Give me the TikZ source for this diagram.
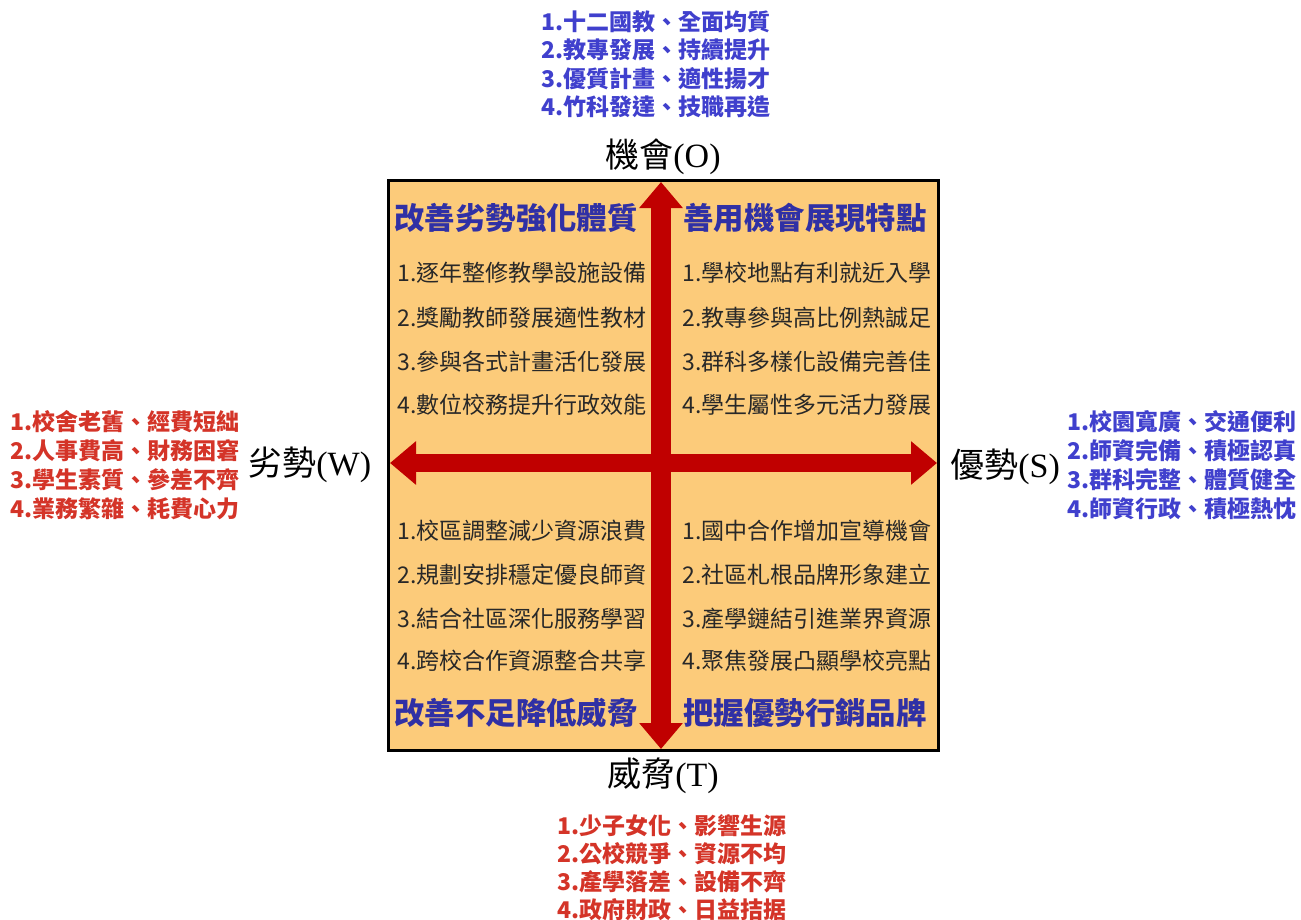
\documentclass[tikz,border=0pt]{standalone}
\usepackage{fontspec}
\usetikzlibrary{arrows.meta}
\newfontfamily\cjk{Noto Sans CJK TC}
\newfontfamily\rom{Liberation Serif}
\definecolor{boxfill}{RGB}{252,203,122}
\definecolor{arrowred}{RGB}{192,0,0}
\definecolor{listblue}{RGB}{64,64,205}
\definecolor{titleblue}{RGB}{48,48,165}
\definecolor{listred}{RGB}{212,52,40}
\definecolor{itemgray}{RGB}{40,40,40}
\tikzset{
  listb/.style={font=\cjk\bfseries\fontsize{11.5}{13}\selectfont, text=listblue, inner sep=0pt},
  listr/.style={font=\cjk\bfseries\fontsize{11.5}{13}\selectfont, text=listred, inner sep=0pt},
  quadtitle/.style={font=\cjk\bfseries\fontsize{15.2}{17}\selectfont, text=titleblue, inner sep=0pt, anchor=west},
  item/.style={font=\cjk\fontsize{11.5}{13}\selectfont, text=itemgray, inner sep=0pt, anchor=west},
  axislabel/.style={font=\fontsize{17}{19}\selectfont, text=black, inner sep=0pt},
  bigarrow/.style={draw=arrowred, line width=10pt, {Triangle[length=13pt,width=21pt]}-{Triangle[length=13pt,width=21pt]}}
}
\begin{document}
\begin{tikzpicture}[x=0.5pt,y=-0.5pt]
\useasboundingbox (0,0) rectangle (1301,920);
% main box
\node[draw=black, line width=1.5pt, fill=boxfill, minimum width=275pt, minimum height=285pt, inner sep=0pt] (box) at (663,465) {};
% arrows
\coordinate (ntip) at (661,182);
\coordinate (stip) at (661,749);
\coordinate (wtip) at (390,463);
\coordinate (etip) at (937,463);
\draw[bigarrow, line width=9pt] (wtip) -- (etip);
\draw[bigarrow] (ntip) -- (stip);
% quadrant titles
\node[quadtitle] (t1) at (394,218) {改善劣勢強化體質};
\node[quadtitle] (t2) at (683,218) {善用機會展現特點};
\node[quadtitle] (t3) at (394,713) {改善不足降低威脅};
\node[quadtitle] (t4) at (683,713) {把握優勢行銷品牌};
% quadrant items
\node[item] (a1) at (397,273) {1.逐年整修教學設施設備};
\node[item] (a2) at (397,318) {2.獎勵教師發展適性教材};
\node[item] (a3) at (397,362) {3.參與各式計畫活化發展};
\node[item] (a4) at (397,405) {4.數位校務提升行政效能};
\node[item] (b1) at (682,273) {1.學校地點有利就近入學};
\node[item] (b2) at (682,318) {2.教專參與高比例熱誠足};
\node[item] (b3) at (682,362) {3.群科多樣化設備完善佳};
\node[item] (b4) at (682,405) {4.學生屬性多元活力發展};
\node[item] (c1) at (397,531) {1.校區調整減少資源浪費};
\node[item] (c2) at (397,575) {2.規劃安排穩定優良師資};
\node[item] (c3) at (397,619) {3.結合社區深化服務學習};
\node[item] (c4) at (397,661) {4.跨校合作資源整合共享};
\node[item] (d1) at (682,531) {1.國中合作增加宣導機會};
\node[item] (d2) at (682,575) {2.社區札根品牌形象建立};
\node[item] (d3) at (682,619) {3.產學鏈結引進業界資源};
\node[item] (d4) at (682,661) {4.聚焦發展凸顯學校亮點};
% axis labels
\node[axislabel] (olab) at (663,157) {\cjk 機會\rom(O)};
\node[axislabel] (tlab) at (663,776) {\cjk 威脅\rom(T)};
\node[axislabel, anchor=west] (wlab) at (248,465) {\cjk 劣勢\rom(W)};
\node[axislabel, anchor=west] (slab) at (950,467) {\cjk 優勢\rom(S)};
% opportunity list
\node[listb, anchor=west] (o1) at (541,22) {1.十二國教、全面均質};
\node[listb, anchor=west] (o2) at (541,50) {2.教專發展、持續提升};
\node[listb, anchor=west] (o3) at (541,79) {3.優質計畫、適性揚才};
\node[listb, anchor=west] (o4) at (541,107) {4.竹科發達、技職再造};
% weakness list
\node[listr, anchor=west] (w1) at (10,422) {1.校舍老舊、經費短絀};
\node[listr, anchor=west] (w2) at (10,451) {2.人事費高、財務困窘};
\node[listr, anchor=west] (w3) at (10,480) {3.學生素質、參差不齊};
\node[listr, anchor=west] (w4) at (10,509) {4.業務繁雜、耗費心力};
% strength list
\node[listb, anchor=east] (s1) at (1297,422) {1.校園寬廣、交通便利};
\node[listb, anchor=east] (s2) at (1297,451) {2.師資完備、積極認真};
\node[listb, anchor=east] (s3) at (1297,480) {3.群科完整、體質健全};
\node[listb, anchor=east] (s4) at (1297,509) {4.師資行政、積極熱忱};
% threat list
\node[listr, anchor=west] (h1) at (557,826) {1.少子女化、影響生源};
\node[listr, anchor=west] (h2) at (557,854) {2.公校競爭、資源不均};
\node[listr, anchor=west] (h3) at (557,882) {3.產學落差、設備不齊};
\node[listr, anchor=west] (h4) at (557,910) {4.政府財政、日益拮据};
\end{tikzpicture}
\end{document}
